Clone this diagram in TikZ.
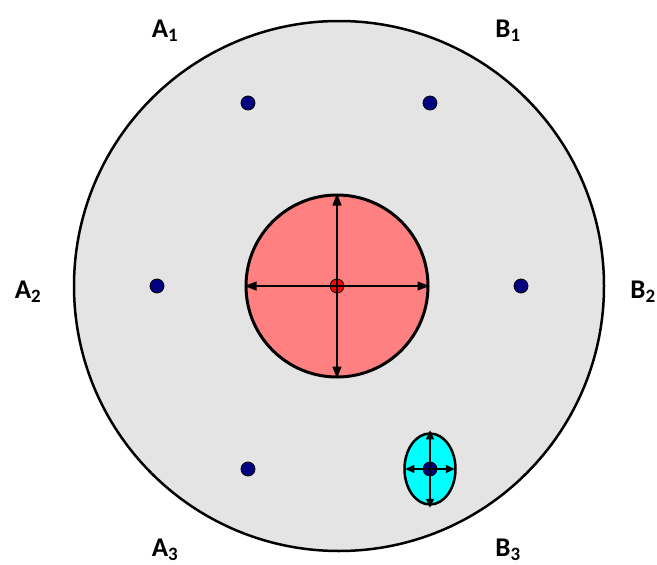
\documentclass[tikz,border=0pt]{standalone}
\usepackage{fontspec}
\setmainfont{Carlito}
\usetikzlibrary{arrows.meta,shapes.geometric}
\definecolor{bgc}{RGB}{228,228,228}
\definecolor{pinkc}{RGB}{255,128,128}
\definecolor{navyc}{RGB}{0,0,128}
\definecolor{cyanc}{RGB}{0,255,255}
\tikzset{
  lbl/.style={font=\fontsize{27}{30}\selectfont\bfseries, inner sep=0pt},
  dotc/.style={circle, fill=navyc, draw=black, line width=0.8pt, minimum size=14pt, inner sep=0pt},
  arr/.style={line width=1.4pt, -{Triangle[length=12pt,width=9pt]}},
  sarr/.style={line width=1.4pt, -{Triangle[length=9pt,width=8pt]}}
}
\begin{document}
\begin{tikzpicture}[x=1pt,y=-1pt]
\useasboundingbox (0,0) rectangle (657,565);
\node[circle, draw=black, fill=bgc, line width=2.5pt, minimum size=530pt, inner sep=0pt] (big) at (339,286) {};
\node[circle, draw=black, fill=pinkc, line width=3pt, minimum size=182pt, inner sep=0pt] (red) at (337,286) {};
\node[circle, fill=red, draw=black, line width=0.8pt, minimum size=14pt, inner sep=0pt] (rc) at (337,286) {};
\draw[arr] (rc.center) -- (red.north);
\draw[arr] (rc.center) -- (red.south);
\draw[arr] (rc.center) -- (red.east);
\draw[arr] (rc.center) -- (red.west);
\node[dotc] (d1) at (248,103) {};
\node[dotc] (d2) at (430,103) {};
\node[dotc] (d3) at (157,286) {};
\node[dotc] (d4) at (521,286) {};
\node[dotc] (d5) at (248,469) {};
\node[ellipse, draw=black, fill=cyanc, line width=2.5pt, minimum width=51pt, minimum height=71pt, inner sep=0pt] (cy) at (430,469) {};
\node[dotc] (d6) at (430,469) {};
\draw[sarr] (d6.center) -- ([yshift=2pt]cy.north);
\draw[sarr] (d6.center) -- ([yshift=-2pt]cy.south);
\draw[sarr] (d6.center) -- ([xshift=-2pt]cy.east);
\draw[sarr] (d6.center) -- ([xshift=2pt]cy.west);
\node[lbl] (a1) at (165,31) {A\textsubscript{1}};
\node[lbl] (b1) at (508,31) {B\textsubscript{1}};
\node[lbl] (a2) at (28,292) {A\textsubscript{2}};
\node[lbl] (b2) at (643,292) {B\textsubscript{2}};
\node[lbl] (a3) at (165,550) {A\textsubscript{3}};
\node[lbl] (b3) at (508,550) {B\textsubscript{3}};
\end{tikzpicture}
\end{document}
